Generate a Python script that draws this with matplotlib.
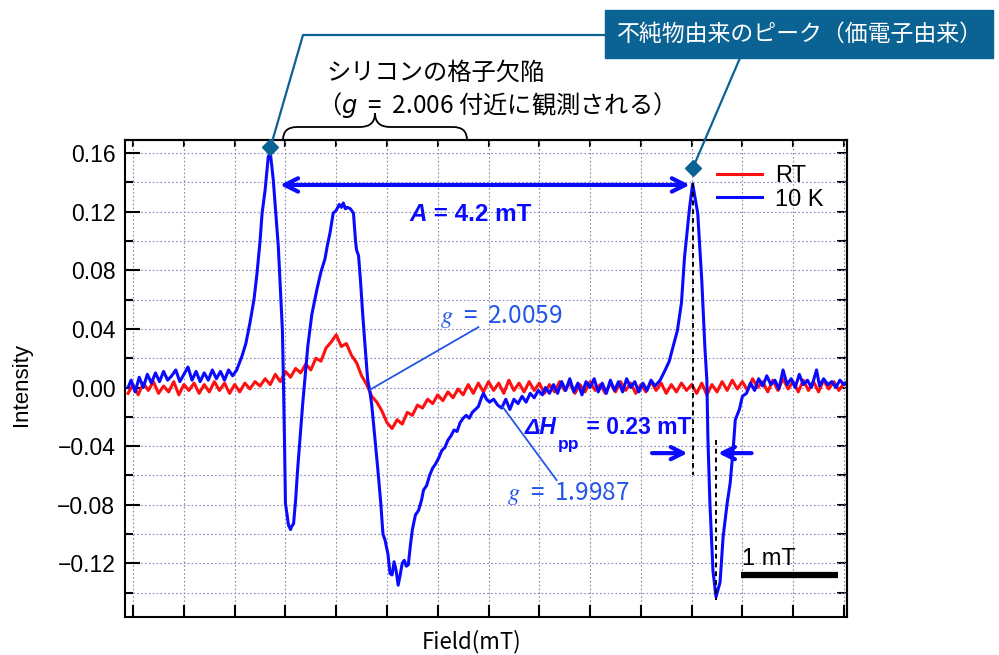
import matplotlib.pyplot as plt
import numpy as np
from matplotlib.lines import Line2D
from matplotlib.patches import Rectangle, PathPatch
from matplotlib.path import Path
from matplotlib.ticker import MultipleLocator, FuncFormatter, NullLocator

plt.rcParams['font.family'] = ['Liberation Sans', 'DejaVu Sans']
JP = ['Noto Sans CJK JP', 'DejaVu Sans']

# field in mT (relative to first grid line), intensity in a.u.
blue_field = [-0.05, -0.02, 0.02, 0.06, 0.10, 0.14, 0.18, 0.22, 0.26, 0.30, 0.34, 0.38, 0.42,
              0.46, 0.50, 0.54, 0.58, 0.62, 0.66, 0.70, 0.74, 0.78, 0.82, 0.86, 0.90, 0.94, 0.98,
              1.02, 1.07, 1.11, 1.15, 1.19, 1.22, 1.25, 1.27, 1.30, 1.33, 1.35, 1.38, 1.43, 1.47,
              1.48, 1.49, 1.50, 1.53, 1.55, 1.56, 1.58, 1.60, 1.62, 1.65, 1.67, 1.70, 1.72, 1.76,
              1.81, 1.85, 1.89, 1.91, 1.94, 1.97, 2.00, 2.03, 2.05, 2.07, 2.09, 2.11, 2.14, 2.17,
              2.19, 2.20, 2.22, 2.24, 2.26, 2.28, 2.31, 2.33, 2.35, 2.38, 2.41, 2.44, 2.46, 2.48,
              2.51, 2.53, 2.55, 2.57, 2.59, 2.61, 2.63, 2.65, 2.67, 2.69, 2.71, 2.73, 2.75, 2.78,
              2.81, 2.84, 2.86, 2.89, 2.92, 2.95, 2.98, 3.01, 3.04, 3.07, 3.10, 3.13, 3.16, 3.19,
              3.22, 3.25, 3.28, 3.31, 3.34, 3.37, 3.40, 3.43, 3.45, 3.48, 3.51, 3.55, 3.59, 3.63,
              3.67, 3.71, 3.75, 3.79, 3.83, 3.87, 3.91, 3.95, 3.99, 4.03, 4.06, 4.10, 4.14, 4.18,
              4.22, 4.26, 4.30, 4.34, 4.38, 4.42, 4.46, 4.50, 4.54, 4.58, 4.62, 4.66, 4.70, 4.74,
              4.78, 4.82, 4.86, 4.90, 4.94, 4.98, 5.02, 5.06, 5.10, 5.14, 5.19, 5.24, 5.28, 5.31,
              5.36, 5.40, 5.43, 5.48, 5.51, 5.56, 5.60, 5.63, 5.65, 5.66, 5.68, 5.71, 5.74, 5.76,
              5.78, 5.81, 5.85, 5.88, 5.91, 5.93, 5.97, 6.00, 6.04, 6.08, 6.12, 6.16, 6.20, 6.24,
              6.28, 6.32, 6.36, 6.40, 6.44, 6.48, 6.52, 6.56, 6.60, 6.64, 6.68, 6.73, 6.76, 6.80,
              6.84, 6.88, 6.92, 6.96, 7.00, 7.03]
blue_int = [0.000, 0.005, -0.003, 0.007, 0.000, 0.009, 0.003, 0.010, 0.004, 0.011, 0.005, 0.008, 0.012,
            0.004, 0.009, 0.014, 0.005, 0.011, 0.004, 0.010, 0.005, 0.012, 0.006, 0.011, 0.005, 0.012, 0.008,
            0.012, 0.021, 0.030, 0.044, 0.060, 0.078, 0.100, 0.119, 0.135, 0.157, 0.161, 0.142, 0.096, 0.039,
            0.005, -0.034, -0.079, -0.094, -0.097, -0.095, -0.093, -0.077, -0.056, -0.029, -0.011, 0.012, 0.028, 0.050,
            0.067, 0.079, 0.088, 0.096, 0.106, 0.119, 0.121, 0.125, 0.123, 0.126, 0.122, 0.123, 0.122, 0.119,
            0.100, 0.094, 0.090, 0.072, 0.051, 0.032, 0.005, -0.002, -0.012, -0.034, -0.056, -0.080, -0.100, -0.104,
            -0.114, -0.127, -0.128, -0.119, -0.125, -0.135, -0.128, -0.120, -0.118, -0.122, -0.121, -0.108, -0.097, -0.087,
            -0.084, -0.077, -0.070, -0.067, -0.060, -0.055, -0.052, -0.048, -0.043, -0.041, -0.036, -0.033, -0.029, -0.030,
            -0.024, -0.021, -0.019, -0.021, -0.017, -0.015, -0.013, -0.007, -0.004, -0.008, -0.010, -0.008, -0.012, -0.014,
            -0.008, -0.015, -0.008, -0.011, -0.006, -0.010, -0.004, -0.007, -0.002, -0.005, 0.000, -0.004, 0.002, -0.004,
            0.004, -0.002, 0.006, -0.003, 0.003, -0.005, 0.004, 0.000, 0.006, -0.003, 0.003, -0.004, 0.005, -0.002,
            0.004, -0.003, 0.006, 0.000, 0.004, -0.003, 0.003, -0.002, 0.005, 0.001, 0.005, 0.012, 0.018, 0.026,
            0.039, 0.058, 0.089, 0.123, 0.139, 0.119, 0.073, 0.028, 0.005, -0.034, -0.079, -0.125, -0.143, -0.138,
            -0.133, -0.102, -0.079, -0.065, -0.041, -0.022, -0.015, -0.006, -0.004, 0.003, -0.002, 0.006, 0.001, 0.008,
            0.002, 0.005, -0.001, 0.012, 0.002, 0.006, 0.000, 0.009, 0.002, 0.005, 0.000, 0.012, 0.001, 0.006,
            0.002, 0.004, 0.000, 0.005, 0.002, 0.004]

red_start, red_step = -0.05, 0.05
red_int = [-0.004, 0.002, -0.005, 0.003, -0.002, 0.004, -0.004, 0.001, -0.003, 0.004,
           -0.005, 0.002, -0.002, 0.003, -0.004, 0.002, -0.003, 0.004, -0.002, 0.003,
           -0.004, 0.002, -0.003, 0.003, -0.001, 0.004, 0.001, 0.006, 0.002, 0.009,
           0.004, 0.011, 0.007, 0.013, 0.010, 0.016, 0.012, 0.020, 0.018, 0.027,
           0.031, 0.036, 0.028, 0.030, 0.022, 0.017, 0.008, 0.002, -0.006, -0.010,
           -0.016, -0.024, -0.028, -0.022, -0.025, -0.017, -0.019, -0.012, -0.014, -0.008,
           -0.011, -0.005, -0.009, -0.003, -0.007, -0.001, -0.005, 0.002, -0.004, 0.003,
           -0.003, 0.004, -0.002, 0.003, -0.004, 0.005, -0.002, 0.003, -0.003, 0.004,
           -0.002, 0.003, -0.004, 0.002, -0.003, 0.004, -0.002, 0.003, -0.004, 0.002,
           -0.003, 0.004, -0.002, 0.002, -0.004, 0.003, -0.003, 0.004, -0.002, 0.003,
           -0.004, 0.002, -0.003, 0.004, -0.002, 0.003, -0.004, 0.002, -0.003, 0.003,
           -0.002, 0.002, -0.004, 0.003, -0.005, 0.002, -0.003, 0.004, -0.002, 0.005,
           -0.001, 0.004, -0.002, 0.006, 0.000, 0.004, -0.003, 0.005, -0.002, 0.006,
           -0.001, 0.004, -0.003, 0.005, -0.002, 0.004, -0.003, 0.005, -0.001, 0.004,
           -0.002, 0.003, 0.001]
red_field = np.round(red_start + red_step * np.arange(len(red_int)), 3)

series_labels = ['RT', '10 K']
yticks_major = [-0.12, -0.08, -0.04, 0.00, 0.04, 0.08, 0.12, 0.16]

W, H = 999, 655
BLUE = '#0a0aff'
RED = '#ff1010'
GBLUE = '#2356e6'
TEAL = '#0b6394'


def fx(px):
    return px / W


def fy(py):
    return 1 - py / H


fig = plt.figure(figsize=(9.99, 6.55), dpi=100)
ax = fig.add_axes([fx(125), fy(617), 722 / W, 477 / H])

ax.plot(red_field, red_int, color=RED, lw=2.2, label=series_labels[0])
ax.plot(blue_field, blue_int, color=BLUE, lw=2.2, label=series_labels[1])

ax.set_xlim(-0.08, 7.03)
ax.set_ylim(-0.1567, 0.169)
ax.xaxis.set_major_locator(MultipleLocator(0.5))
ax.xaxis.set_minor_locator(NullLocator())
ax.set_yticks(yticks_major)
ax.yaxis.set_minor_locator(MultipleLocator(0.02))


def yfmt(v, pos):
    if abs(v) < 1e-9:
        v = 0.0
    return f'{v:.2f}'.replace('-', '\u2212')


ax.yaxis.set_major_formatter(FuncFormatter(yfmt))

grid_kw = dict(color='#8a8ab8', lw=0.8, linestyle=(0, (1.5, 2)))
ax.grid(axis='x', which='major', **grid_kw)
ax.grid(axis='y', which='both', **grid_kw)
ax.set_axisbelow(True)

ax.tick_params(axis='x', which='major', direction='in', length=8.5, width=1.5,
               labelbottom=False, top=False)
ax.tick_params(axis='y', which='major', direction='in', length=10.5, width=1.5,
               labelsize=16.5, pad=7, right=False)
ax.tick_params(axis='y', which='minor', direction='in', length=5.5, width=1.5, right=False)
for s in ax.spines.values():
    s.set_linewidth(1.5)

top = ax.secondary_xaxis('top')
top.xaxis.set_major_locator(MultipleLocator(0.5))
top.tick_params(direction='in', length=5, width=1.5, labeltop=False)
top.spines['top'].set_linewidth(1.5)
right = ax.secondary_yaxis('right')
right.yaxis.set_major_locator(MultipleLocator(0.02))
right.tick_params(direction='in', length=7.5, width=1.5, labelright=False)
right.spines['right'].set_linewidth(1.5)

ax.legend(loc='center left', bbox_to_anchor=((717 - 125) / 722, (617 - 188) / 477),
          frameon=False, prop={'family': 'Liberation Sans', 'size': 17},
          handlelength=1.9, handletextpad=0.55, labelspacing=0.05,
          borderpad=0, borderaxespad=0)

# A = 4.2 mT
ax.annotate('', xy=(5.482, 0.1383), xytext=(1.447, 0.1383),
            arrowprops=dict(arrowstyle='<->', lw=3, color=BLUE, mutation_scale=24,
                            shrinkA=0, shrinkB=0))
t_a = ax.text(2.726, 0.1178, 'A', color=BLUE, fontsize=17.5, weight='bold',
              style='italic', va='center', ha='left')
ax.annotate(' = 4.2 mT', xy=(1, 0), xycoords=t_a, va='bottom', ha='left',
            color=BLUE, fontsize=17.5, weight='bold')

# g values
ax.text(3.02, 0.0488, r'$g$  =  2.0059', color=GBLUE, fontsize=17.5, family=JP,
        math_fontfamily='stix', va='center', ha='left')
ax.plot([3.40, 2.33], [0.0412, -0.0016], color=GBLUE, lw=1.3)
ax.text(3.68, -0.0727, r'$g$  =  1.9987', color=GBLUE, fontsize=17.5, family=JP,
        math_fontfamily='stix', va='center', ha='left')
ax.plot([3.64, 4.17], [-0.0133, -0.0632], color=GBLUE, lw=1.3)

# linewidth annotation
t_dh = ax.text(3.858, -0.0276, '\u0394H', color=BLUE, fontsize=16.5, weight='bold',
               style='italic', va='center', ha='left')
t_pp = ax.annotate('pp', xy=(1, 0), xycoords=t_dh, xytext=(1, 2), textcoords='offset points',
                   va='top', ha='left', color=BLUE, fontsize=12.5, weight='bold')
ax.annotate(' = 0.23 mT', xy=(1, 0), xycoords=(t_pp, t_dh), va='bottom', ha='left',
            color=BLUE, fontsize=16.5, weight='bold')
ax.annotate('', xy=(5.46, -0.0448), xytext=(5.11, -0.0448),
            arrowprops=dict(arrowstyle='->', lw=3, color=BLUE, mutation_scale=22,
                            shrinkA=0, shrinkB=0))
ax.annotate('', xy=(5.76, -0.0448), xytext=(6.09, -0.0448),
            arrowprops=dict(arrowstyle='->', lw=3, color=BLUE, mutation_scale=22,
                            shrinkA=0, shrinkB=0))
ax.plot([5.51, 5.51], [0.1397, -0.0597], color='k', lw=1.4, ls=(0, (2.5, 2)))
ax.plot([5.74, 5.74], [-0.0358, -0.145], color='k', lw=1.4, ls=(0, (2.5, 2)))

# scale bar
ax.plot([5.99, 6.94], [-0.128, -0.128], color='k', lw=4.5, solid_capstyle='butt')
ax.text(6.00, -0.1212, '1 mT', fontsize=17, va='baseline', ha='left')

# callouts above the plot
for xs, ys in [([272, 303, 605], [142, 35, 35]), ([695, 740], [163, 58])]:
    fig.add_artist(Line2D([fx(v) for v in xs], [fy(v) for v in ys],
                          transform=fig.transFigure, color=TEAL, lw=1.6))
fig.add_artist(Line2D([fx(270), fx(693)], [fy(147), fy(168)], transform=fig.transFigure,
                      ls='none', marker='D', ms=8, color=TEAL))
fig.patches.append(Rectangle((fx(605), fy(58)), 388 / W, 48 / H,
                             transform=fig.transFigure, color=TEAL, figure=fig))
fig.text(fx(800), fy(34), '不純物由来のピーク（価電子由来）', color='white', fontsize=16.5,
         family=JP, ha='center', va='center')

fig.text(fx(326), fy(73), 'シリコンの格子欠陥', fontsize=17.5, family=JP, ha='left', va='center')
fig.text(fx(317), fy(105), r'（$g$  =  2.006 付近に観測される）', fontsize=17.5, family=JP,
         math_fontfamily='dejavusans', ha='left', va='center')

bx = [283, 283, 297, 360, 375, 375, 375, 390, 453, 467, 467]
by = [140, 127, 127, 127, 127, 113, 127, 127, 127, 127, 140]
codes = [Path.MOVETO, Path.CURVE3, Path.CURVE3, Path.LINETO, Path.CURVE3, Path.CURVE3,
         Path.CURVE3, Path.CURVE3, Path.LINETO, Path.CURVE3, Path.CURVE3]
brace = Path(np.column_stack([[fx(v) for v in bx], [fy(v) for v in by]]), codes)
fig.patches.append(PathPatch(brace, transform=fig.transFigure, fill=False, lw=1.3,
                             color='k', figure=fig))

fig.text(fx(472), fy(642), 'Field(mT)', fontsize=16, family=JP, ha='center', va='center')
fig.text(fx(22), fy(385), 'Intensity', fontsize=16, rotation=90, ha='center', va='center')

fig.savefig('out.png', dpi=100)
